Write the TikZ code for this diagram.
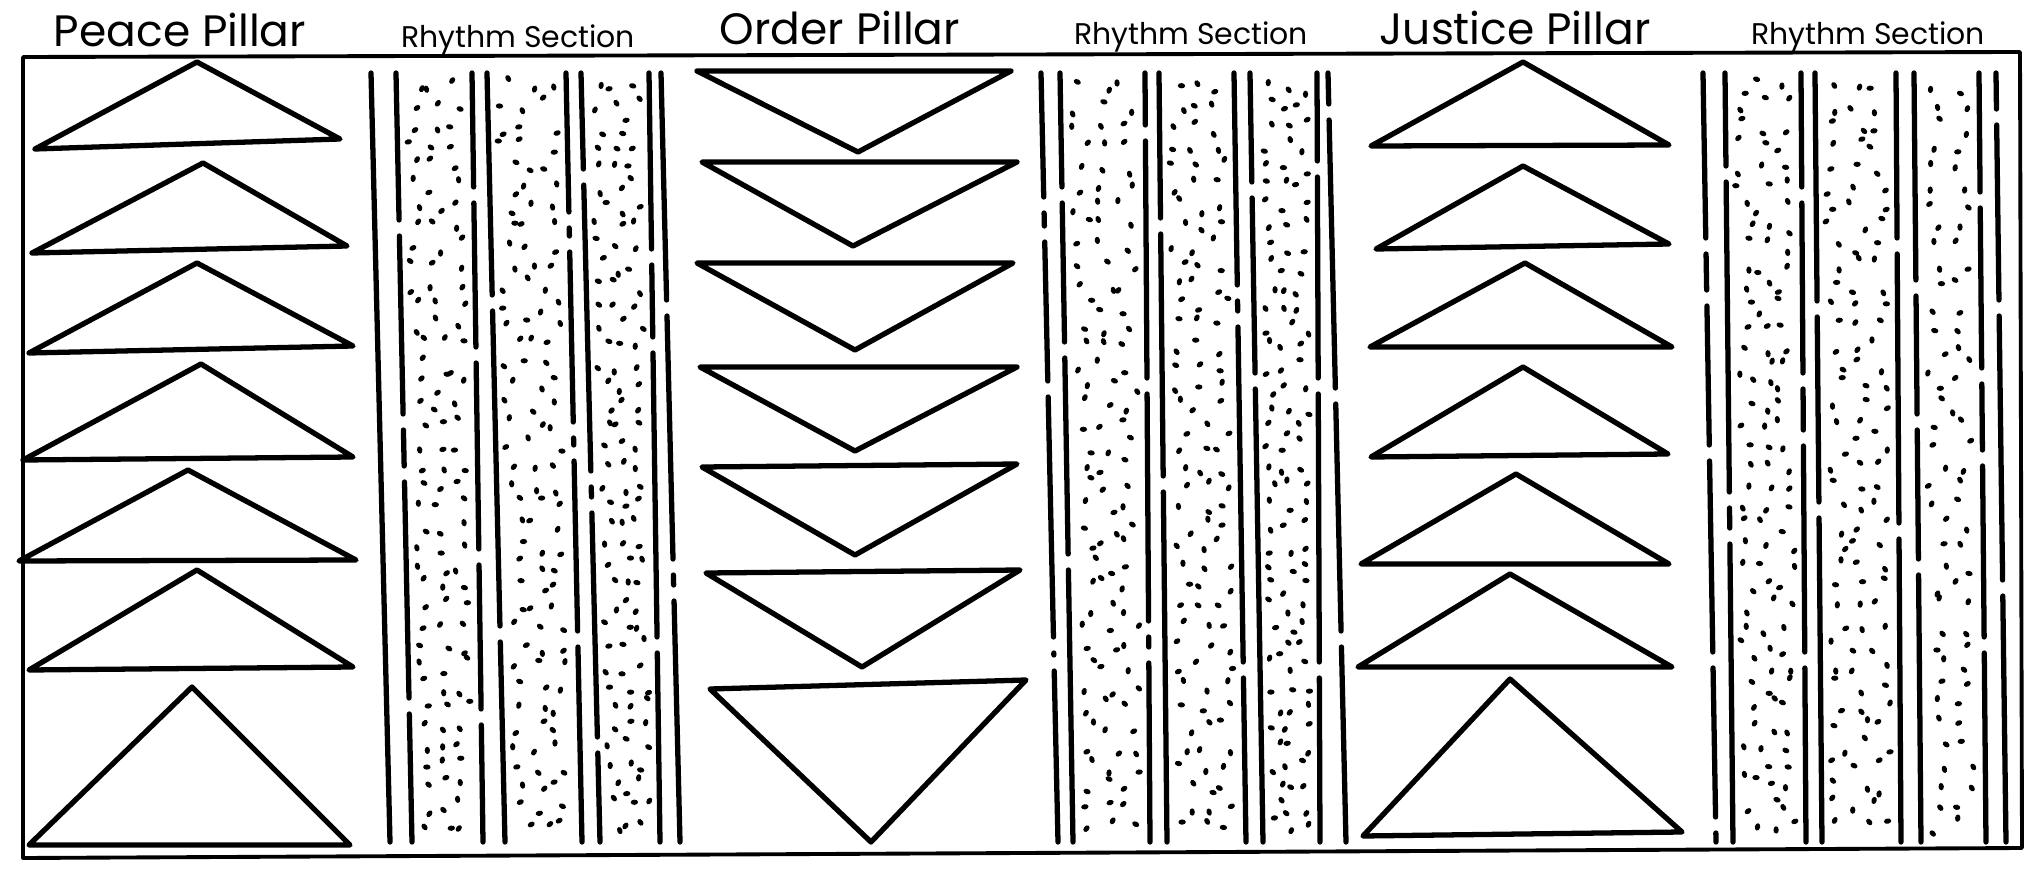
\documentclass[tikz,border=0pt]{standalone}
\usepackage{fontspec}
\setmainfont{Poppins}
\usepackage{tikz}
\usetikzlibrary{calc}

\begin{document}
\begin{tikzpicture}[x=0.01cm,y=-0.01cm,
  frame/.style={draw=black,line width=1.1pt,line join=round},
  tri/.style={draw=black,line width=1.5pt,line join=round,line cap=round},
  rline/.style={draw=black,line width=1.5pt,line cap=round},
  speck/.style={fill=black},
  pillarlabel/.style={font=\fontsize{12.5}{14}\selectfont,inner sep=0pt},
  rhythmlabel/.style={font=\fontsize{8.5}{10}\selectfont,inner sep=0pt}
]
\useasboundingbox (0,0) rectangle (2032,873);

% outer frame
\draw[frame] (23,57) -- (2020,52) -- (2022,848) -- (23,858) -- cycle;

% headings
\node[pillarlabel] (peace) at (180,30) {Peace Pillar};
\node[rhythmlabel] (rhythmA) at (518,40) {Rhythm Section};
\node[pillarlabel] (order) at (840,28) {Order Pillar};
\node[rhythmlabel] (rhythmB) at (1191,37) {Rhythm Section};
\node[pillarlabel] (justice) at (1515,28) {Justice Pillar};
\node[rhythmlabel] (rhythmC) at (1868,37) {Rhythm Section};

% peace pillar: apex / left / right
\foreach \ax/\ay/\lx/\ly/\rx/\ry in {197/62/35/149/340/139, 203/163/32/253/347/246,
    197/263/29/353/353/346, 201/364/23/460/353/457, 188/470/19/561/356/560,
    197/570/29/670/353/667, 192/687/29/845/350/845}
  \draw[tri] (\ax,\ay) -- (\rx,\ry) -- (\lx,\ly) -- cycle;

% order pillar: top left / top right / bottom
\foreach \lx/\ly/\rx/\ry/\bx/\by in {697/71/1011/71/858/152, 702/162/1017/162/853/246,
    697/263/1013/263/855/350, 700/367/1017/367/855/451, 702/467/1017/464/855/555,
    706/573/1020/570/862/667, 710/689/1026/680/871/842}
  \draw[tri] (\lx,\ly) -- (\rx,\ry) -- (\bx,\by) -- cycle;

% justice pillar: apex / left / right
\foreach \ax/\ay/\lx/\ly/\rx/\ry in {1523/62/1371/146/1669/145, 1523/166/1376/249/1669/244,
    1525/263/1370/347/1672/347, 1523/367/1371/457/1668/454, 1516/474/1361/564/1669/564,
    1510/574/1358/667/1672/667, 1510/679/1363/836/1682/832}
  \draw[tri] (\ax,\ay) -- (\rx,\ry) -- (\lx,\ly) -- cycle;

% rhythm sections: broken lines (top x / bottom x / gaps)
\draw[rline] (371,73) -- (390,842);
\foreach \xt/\xb/\gaps in {
    396/412/{228,422,474,706}, 472/483/{195,355,557,717}, 487/505/{303,634},
    566/582/{220,244,430,453,639}, 581/600/{177,479,505,745}, 649/660/{257,345,645},
    661/680/{308,567,593},
    1041/1058/{205,234,389,645,663}, 1060/1073/{195,350,562}, 1145/1150/{133,386,629,655},
    1159/1167/{226,484}, 1234/1246/{293,319,670}, 1250/1263/{190,381},
    1317/1320/{169,386,670}, 1328/1346/{112,396,639},
    1703/1716/{246,298,453,660,825}, 1725/1733/{174,500,536}, 1801/1806/{195,381,438,660},
    1815/1822/{309,510}, 1896/1901/{246,531}, 1914/1921/{288,422,567},
    1979/1986/{200,376,458,645}, 1996/2006/{117,308,588}}
  \draw[rline] (\xt,73)
    \foreach \g in \gaps {-- ({\xt+(\xb-\xt)*(\g-81)/769},\g-8)
                          ({\xt+(\xb-\xt)*(\g-65)/769},\g+8)}
    -- (\xb,842);

% stipple between the lines (jittered grid)
\pgfmathsetseed{11}
\foreach \at/\ab/\bt/\bb in {396/412/472/483, 487/505/566/582, 581/600/649/660,
    1060/1073/1145/1150, 1159/1167/1234/1246, 1250/1263/1317/1320,
    1725/1733/1801/1806, 1815/1822/1896/1901, 1914/1921/1979/1986}{
  \pgfmathtruncatemacro\ncol{max(2,round((\bt-\at-16)/20))}
  \foreach \r in {0,...,37}{
    \foreach \c in {1,...,\ncol}{
      \pgfmathsetmacro\yy{86+\r*20+17*(rnd-0.5)}
      \pgfmathsetmacro\fr{(\yy-73)/769}
      \pgfmathsetmacro\xl{\at+(\ab-\at)*\fr+8}
      \pgfmathsetmacro\xr{\bt+(\bb-\bt)*\fr-8}
      \pgfmathsetmacro\xx{\xl+(\xr-\xl)*(\c-0.5+0.85*(rnd-0.5))/\ncol}
      \pgfmathsetmacro\ang{180*rnd}
      \fill[speck,rotate around={\ang:(\xx,\yy)}] (\xx,\yy)
        ellipse [x radius=1.05pt,y radius=0.75pt];
    }
  }
}
\end{tikzpicture}
\end{document}
